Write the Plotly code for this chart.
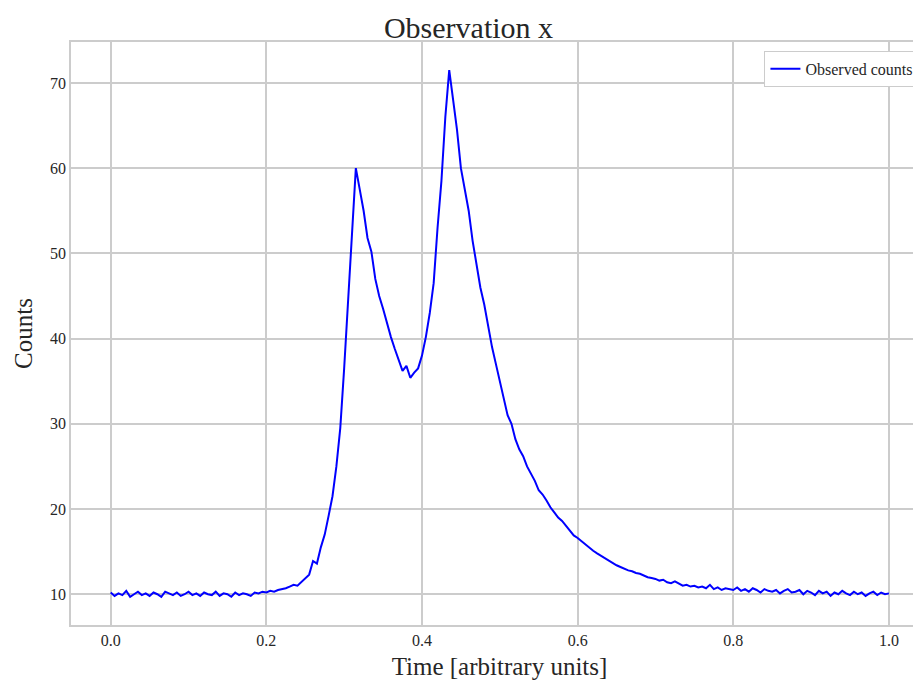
import numpy as np
import plotly.graph_objects as go

counts = [10.2,9.8,10.1,9.9,10.4,9.7,10.0,10.3,9.9,10.1,9.8,10.2,10.0,9.7,10.3,10.1,9.9,10.2,9.8,10.0,
          10.3,9.9,10.1,9.8,10.2,10.0,9.9,10.3,9.8,10.1,10.0,9.7,10.2,9.9,10.1,10.0,9.8,10.2,10.1,10.3,
          10.2,10.4,10.3,10.5,10.6,10.7,10.9,11.1,11.0,11.4,
          11.8,12.3,13.9,13.6,15.5,17.0,19.2,21.5,25.0,29.5,
          36.5,44.0,51.5,60.0,57.5,55.0,51.8,50.2,47.0,45.0,
          43.5,41.8,40.2,38.8,37.5,36.2,36.8,35.4,36.0,36.5,
          38.0,40.2,43.0,46.5,53.0,58.5,66.0,71.5,68.0,64.5,
          60.0,57.5,55.0,51.5,48.5,46.0,44.0,41.5,39.0,37.0,
          35.0,33.2,31.0,30.0,28.2,27.0,26.2,25.0,24.1,23.3,
          22.2,21.7,21.0,20.2,19.6,19.0,18.6,18.0,17.4,16.9,
          16.6,16.2,15.8,15.5,15.1,14.8,14.5,14.2,14.0,13.7,
          13.4,13.2,13.0,12.8,12.7,12.5,12.4,12.2,12.0,11.9,
          11.8,11.6,11.7,11.4,11.3,11.5,11.2,11.0,11.1,10.9,
          11.0,10.8,10.9,10.7,11.1,10.6,10.8,10.5,10.7,10.6,
          10.5,10.8,10.4,10.6,10.3,10.7,10.5,10.2,10.6,10.4,
          10.3,10.5,10.1,10.4,10.6,10.2,10.3,10.5,10.0,10.4,
          10.2,9.9,10.4,10.1,10.3,9.8,10.2,10.0,10.4,10.1,
          9.9,10.3,10.0,10.2,9.8,10.1,10.3,9.9,10.2,10.0,10.1]
time = np.linspace(0, 1, len(counts))

font = "Liberation Serif"
fig = go.Figure(go.Scatter(x=time, y=counts, mode="lines", name="Observed counts",
                           line=dict(color="#0000ff", width=2)))
ax = dict(showgrid=True, gridcolor="#cccccc", gridwidth=1.5, zeroline=False,
          showline=True, linecolor="#cccccc", linewidth=1.5, mirror=True, automargin=False,
          ticks="", tickfont=dict(size=16, color="#262626", family=font))
fig.update_layout(
    width=921, height=680, plot_bgcolor="white", paper_bgcolor="white",
    margin=dict(l=63, r=1, t=34, b=63),
    font=dict(family=font, color="#262626"),
    title=dict(text="Observation x", x=0.5, xanchor="center", y=0.972, yanchor="middle",
               font=dict(size=30)),
    xaxis=dict(ax, range=[-0.051, 1.0502], tickvals=[0,0.2,0.4,0.6,0.8,1.0],
               ticktext=["0.0","0.2","0.4","0.6","0.8","1.0"],
               title=dict(text="Time [arbitrary units]", font=dict(size=25), standoff=10)),
    yaxis=dict(ax, range=[6.39, 74.8], tickvals=[10,20,30,40,50,60,70],
               title=dict(text="Counts", font=dict(size=25), standoff=10)),
    showlegend=True,
    legend=dict(x=0.99, y=0.985, xanchor="right", yanchor="top", bordercolor="#cccccc",
                borderwidth=1, bgcolor="white", font=dict(size=16)),
)
fig.write_html("out.html")
